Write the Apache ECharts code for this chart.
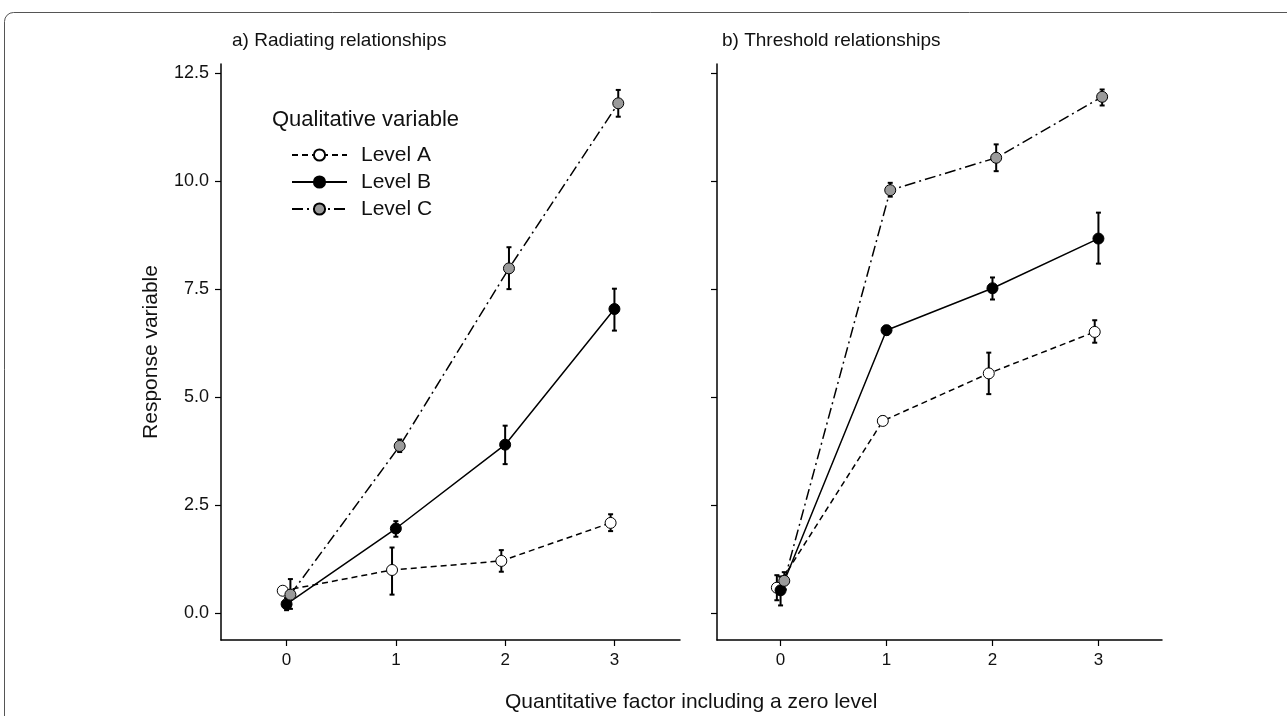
<!DOCTYPE html>
<html>
<head>
<meta charset="utf-8">
<script src="https://cdn.jsdelivr.net/npm/echarts@6/dist/echarts.min.js"></script>
<style>
html,body{margin:0;padding:0;background:#fff;}
#chart{width:1287px;height:716px;}
</style>
</head>
<body>
<div id="chart"></div>
<script>
// ---- data ----
const levelNames = ['Level A', 'Level B', 'Level C'];
const xLevels = [0, 1, 2, 3];
const yTicks = [0, 2.5, 5, 7.5, 10, 12.5];
const xTicks = [0, 1, 2, 3];
const dodge = [-0.035, 0, 0.035];
const panelTitles = ['a) Radiating relationships', 'b) Threshold relationships'];

// Panel a (radiating)
const aMeanA = [0.52, 1.00, 1.21, 2.09];
const aLoA   = [0.45, 0.43, 0.96, 1.90];
const aHiA   = [0.60, 1.52, 1.46, 2.29];
const aMeanB = [0.21, 1.96, 3.90, 7.04];
const aLoB   = [0.07, 1.77, 3.45, 6.54];
const aHiB   = [0.35, 2.13, 4.34, 7.51];
const aMeanC = [0.43, 3.87, 7.98, 11.80];
const aLoC   = [0.10, 3.73, 7.50, 11.49];
const aHiC   = [0.79, 4.02, 8.47, 12.11];

// Panel b (threshold)
const bMeanA = [0.59, 4.45, 5.55, 6.51];
const bLoA   = [0.30, 4.38, 5.07, 6.26];
const bHiA   = [0.88, 4.55, 6.03, 6.78];
const bMeanB = [0.53, 6.55, 7.52, 8.67];
const bLoB   = [0.18, 6.45, 7.26, 8.09];
const bHiB   = [0.85, 6.65, 7.77, 9.27];
const bMeanC = [0.75, 9.79, 10.54, 11.95];
const bLoC   = [0.55, 9.64, 10.23, 11.75];
const bHiC   = [0.95, 9.96, 10.85, 12.12];

const panels = [
  [[aMeanA, aLoA, aHiA], [aMeanB, aLoB, aHiB], [aMeanC, aLoC, aHiC]],
  [[bMeanA, bLoA, bHiA], [bMeanB, bLoB, bHiB], [bMeanC, bLoC, bHiC]]
];

// ---- styles ----
const FONT = '"Liberation Sans", Arial, sans-serif';
const fills = ['#ffffff', '#000000', '#9a9a9a'];
const dashes = [[6, 4], 'solid', [11, 4, 2, 4]];

const chart = echarts.init(document.getElementById('chart'), null, {renderer: 'canvas'});

const grids = [
  {left: 221, top: 64, width: 459, height: 576},
  {left: 717, top: 64, width: 445, height: 576}
];

function makeXAxis(i) {
  return {
    type: 'value', gridIndex: i, min: -0.6, max: 3.6,
    axisLine: {show: true, onZero: false, lineStyle: {color: '#000', width: 1.5}},
    axisTick: {show: true, inside: false, length: 6, customValues: xTicks, lineStyle: {color: '#000', width: 1.2}},
    axisLabel: {show: true, customValues: xTicks, margin: 12, color: '#111', fontSize: 17, fontFamily: FONT},
    splitLine: {show: false}
  };
}
function makeYAxis(i) {
  return {
    type: 'value', gridIndex: i, min: -0.62, max: 12.71,
    axisLine: {show: true, onZero: false, lineStyle: {color: '#000', width: 1.5}},
    axisTick: {show: true, inside: false, length: 6, customValues: yTicks, lineStyle: {color: '#000', width: 1.2}},
    axisLabel: {show: i === 0, customValues: yTicks, margin: 12, color: '#111', fontSize: 18, fontFamily: FONT,
      formatter: v => v.toFixed(1)},
    splitLine: {show: false},
    name: i === 0 ? 'Response variable' : '',
    nameLocation: 'middle', nameGap: 59,
    nameTextStyle: {fontSize: 21, color: '#111', fontFamily: FONT}
  };
}

const series = [];
panels.forEach((panel, p) => {
  panel.forEach((lv, k) => {
    const [mean, lo, hi] = lv;
    const xs = xLevels.map(x => x + dodge[k]);
    series.push({
      type: 'custom', name: levelNames[k] + ' err', xAxisIndex: p, yAxisIndex: p, z: 2,
      data: xs.map((x, j) => [x, lo[j], hi[j]]),
      renderItem: (params, api) => {
        const x = api.value(0);
        const top = api.coord([x, api.value(2)]);
        const bot = api.coord([x, api.value(1)]);
        const cap = 2.5;
        const st = {stroke: '#000', lineWidth: 2};
        return {type: 'group', children: [
          {type: 'line', shape: {x1: top[0], y1: top[1], x2: bot[0], y2: bot[1]}, style: st},
          {type: 'line', shape: {x1: top[0] - cap, y1: top[1], x2: top[0] + cap, y2: top[1]}, style: st},
          {type: 'line', shape: {x1: bot[0] - cap, y1: bot[1], x2: bot[0] + cap, y2: bot[1]}, style: st}
        ]};
      },
      silent: true
    });
    series.push({
      type: 'line', name: levelNames[k], xAxisIndex: p, yAxisIndex: p, z: 3 + k,
      data: xs.map((x, j) => [x, mean[j]]),
      symbol: 'circle', symbolSize: 11, showSymbol: true,
      lineStyle: {color: '#000', width: 1.5, type: dashes[k]},
      itemStyle: {color: fills[k], borderColor: '#000', borderWidth: 1},
      emphasis: {disabled: true}
    });
  });
});

const option = {
  animation: false,
  backgroundColor: '#fff',
  textStyle: {fontFamily: FONT},
  grid: grids,
  xAxis: [makeXAxis(0), makeXAxis(1)],
  yAxis: [makeYAxis(0), makeYAxis(1)],
  legend: {
    data: levelNames,
    orient: 'vertical', left: 286, top: 139,
    itemWidth: 55, itemHeight: 14, itemGap: 5,
    textStyle: {fontSize: 21, color: '#111', fontFamily: FONT, lineHeight: 22, padding: [0, 0, 0, 9]},
    selectedMode: false
  },
  graphic: [
    {type: 'rect', shape: {x: 4.5, y: 12.5, width: 1400, height: 800, r: 9},
     style: {fill: 'none', stroke: '#555', lineWidth: 1}, silent: true},
    {type: 'text', left: 232, top: 31, style: {text: panelTitles[0], fill: '#111', font: '19px ' + FONT}},
    {type: 'text', left: 722, top: 31, style: {text: panelTitles[1], fill: '#111', font: '19px ' + FONT}},
    {type: 'text', left: 272, top: 109, style: {text: 'Qualitative variable', fill: '#111', font: '22px ' + FONT}},
    {type: 'text', left: 505, top: 692, style: {text: 'Quantitative factor including a zero level', fill: '#111', font: '21px ' + FONT}}
  ],
  series: series
};
chart.setOption(option);
</script>
</body>
</html>
